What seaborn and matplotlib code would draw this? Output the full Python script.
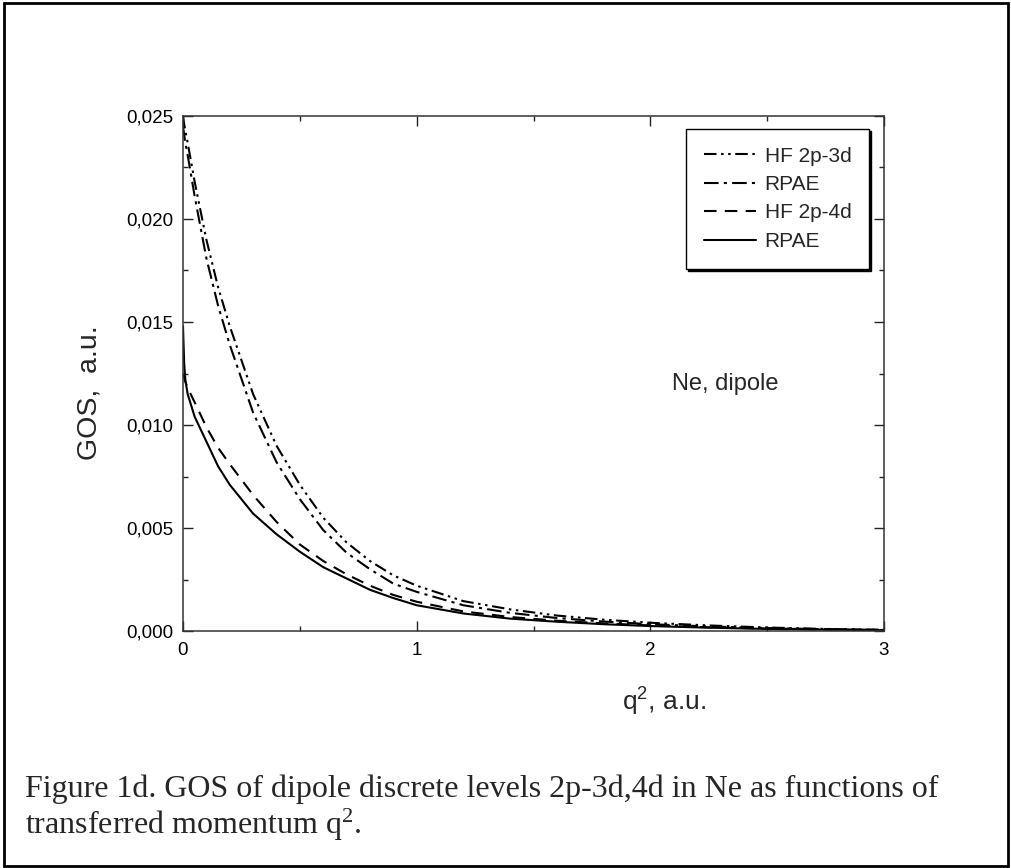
import numpy as np
import pandas as pd
import seaborn as sns
import matplotlib
matplotlib.use("Agg")
import matplotlib.pyplot as plt
from matplotlib.ticker import MultipleLocator, FuncFormatter
from matplotlib.patches import Rectangle

# ---- data ----
q2 = [0, 0.005, 0.01, 0.02, 0.05, 0.1, 0.15, 0.2, 0.3, 0.4, 0.5, 0.6, 0.7, 0.8,
      0.9, 1.0, 1.2, 1.4, 1.6, 1.8, 2.0, 2.25, 2.5, 2.75, 3.0]
hf_3d = [0.0250, 0.0246, 0.0243, 0.0237, 0.0218, 0.0190, 0.0167, 0.0148, 0.0115,
         0.0090, 0.0071, 0.0055, 0.0043, 0.0034, 0.0027, 0.0022, 0.00145, 0.00105,
         0.00075, 0.00055, 0.00040, 0.00027, 0.00017, 0.00010, 0.00006]
rpae_3d = [0.0245, 0.0241, 0.0237, 0.0231, 0.0211, 0.0181, 0.0158, 0.0139, 0.0106,
           0.0082, 0.0064, 0.0049, 0.0038, 0.0030, 0.0023, 0.0019, 0.00125, 0.00088,
           0.00063, 0.00046, 0.00033, 0.00022, 0.00014, 0.00009, 0.00005]
hf_4d = [0.0125, 0.0123, 0.0121, 0.0118, 0.0111, 0.0099, 0.0089, 0.0081, 0.0066,
         0.0053, 0.0042, 0.0034, 0.00275, 0.00220, 0.00175, 0.00142, 0.00095, 0.00068,
         0.00050, 0.00037, 0.00027, 0.00018, 0.00012, 0.00008, 0.00005]
rpae_4d = [0.0148, 0.0130, 0.0122, 0.0115, 0.0104, 0.0092, 0.0080, 0.0071, 0.0057,
           0.0047, 0.00385, 0.0031, 0.00255, 0.0020, 0.0016, 0.00125, 0.00085, 0.00060,
           0.00045, 0.00033, 0.00024, 0.00016, 0.00010, 0.00007, 0.00004]
series_labels = ["HF 2p-3d", "RPAE", "HF 2p-4d", "RPAE"]
x_ticks = [0, 1, 2, 3]
y_ticks = [0.0, 0.005, 0.010, 0.015, 0.020, 0.025]

sns.set_style("ticks")
plt.rcParams["font.family"] = ["Liberation Sans", "DejaVu Sans"]
plt.rcParams["mathtext.default"] = "regular"

fig = plt.figure(figsize=(10.12, 8.68), dpi=100)
ax = fig.add_axes([183 / 1012, 1 - 631 / 868, (884 - 183) / 1012, (631 - 116) / 868])

styles = [
    (0, (6, 2.2, 1.2, 2.2, 1.2, 2.2)),
    (0, (7, 2.5, 1.5, 2.5)),
    (0, (6, 4)),
    "-",
]
ys = [hf_3d, rpae_3d, hf_4d, rpae_4d]
for vals, lab, ls in zip(ys, series_labels, styles):
    df = pd.DataFrame({"q2": q2, "gos": vals})
    sns.lineplot(data=df, x="q2", y="gos", ax=ax, color="black", linewidth=1.5,
                 linestyle=ls, label=lab, estimator=None, sort=False)

ax.set_xlim(0, 3)
ax.set_ylim(0, 0.025)
ax.set_xticks(x_ticks)
ax.set_yticks(y_ticks)
ax.xaxis.set_minor_locator(MultipleLocator(0.5))
ax.yaxis.set_minor_locator(MultipleLocator(0.0025))
ax.yaxis.set_major_formatter(FuncFormatter(lambda v, p: f"{v:.3f}".replace(".", ",")))
ax.xaxis.set_major_formatter(FuncFormatter(lambda v, p: f"{v:g}"))
ax.tick_params(which="both", direction="in", top=True, right=True, colors="#222222",
               labelcolor="black", width=1.0)
ax.tick_params(which="major", length=7.5)
ax.tick_params(which="minor", length=3.6)
ax.tick_params(axis="y", which="major", pad=7, labelsize=13.5)
ax.tick_params(axis="x", which="major", pad=8, labelsize=13.5)
for s in ax.spines.values():
    s.set_visible(True)
    s.set_linewidth(1.1)
    s.set_color("#333333")

ax.set_xlabel("")
ax.set_ylabel("")
fig.text(90 / 1012, 1 - 393 / 868, "GOS,  a.u.", rotation=90, fontsize=20.5,
         ha="center", va="center")
fig.text(664 / 1012, 1 - 702 / 868, "q$^{2}$, a.u.", fontsize=19, ha="center", va="center")
ax.text(2.32, 0.0120, "Ne, dipole", fontsize=17, ha="center", va="center")

leg = ax.legend(loc="upper left", bbox_to_anchor=((686 - 183) / 701, 1 - (129 - 116) / 515),
                fontsize=15, frameon=True, fancybox=False, edgecolor="black",
                handlelength=2.5, handletextpad=0.43, labelspacing=0.45,
                borderpad=0.85, borderaxespad=0,
                shadow={"color": "black", "alpha": 1.0, "ox": 1.5, "oy": -1.5})
leg.get_frame().set_linewidth(1.0)

fig.text(25 / 1012, 1 - 797 / 868, "Figure 1d. GOS of dipole discrete levels 2p-3d,4d in Ne as functions of",
         family=["Liberation Serif", "DejaVu Serif"], fontsize=23, ha="left", va="baseline")
fig.text(25 / 1012, 1 - 834 / 868, "transferred momentum q$^{2}$.",
         family=["Liberation Serif", "DejaVu Serif"], fontsize=23, ha="left", va="baseline",
         math_fontfamily="dejavuserif")

fig.patches.append(Rectangle((4 / 1012, 2 / 868), 1 - 8 / 1012, 1 - 5 / 868,
                             transform=fig.transFigure, fill=False, lw=2, edgecolor="black"))

fig.savefig("out.png", dpi=100)
